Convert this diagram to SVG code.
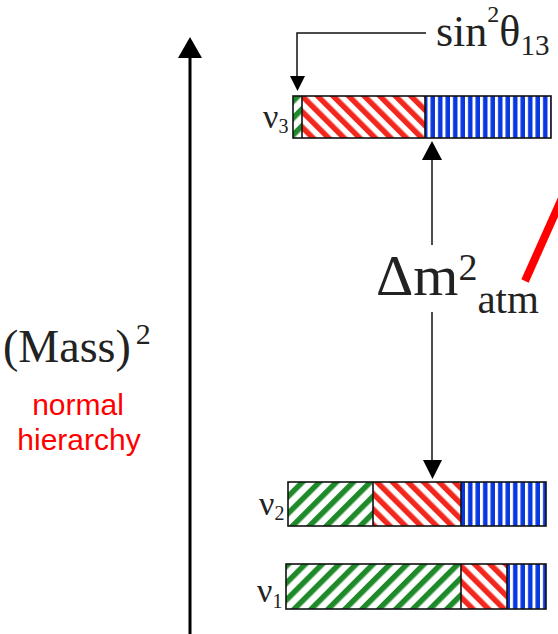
<svg xmlns="http://www.w3.org/2000/svg" width="558" height="634" viewBox="0 0 558 634">
<style>
.serif{font-family:"Liberation Serif","Times New Roman",serif;fill:#222}
.lbl{font-family:"Liberation Sans",Arial,sans-serif;fill:#ff0000;font-size:30px;text-anchor:middle}
.bar{stroke:#111;stroke-width:1.6}
.ln{stroke:#111;stroke-width:1.5;fill:none}
.hd{fill:#000}
</style>
<defs>
<pattern id="pg" width="12" height="12" patternUnits="userSpaceOnUse" patternTransform="rotate(45)">
<rect width="12" height="12" fill="#fff"/><rect width="5.5" height="12" fill="#1f8a2a"/>
</pattern>
<pattern id="pr" width="11" height="11" patternUnits="userSpaceOnUse" patternTransform="rotate(-45)">
<rect width="11" height="11" fill="#fff"/><rect width="5.5" height="11" fill="#f2271e"/>
</pattern>
<pattern id="pb" width="7.5" height="10" patternUnits="userSpaceOnUse">
<rect width="7.5" height="10" fill="#fff"/><rect x="3" width="4.5" height="10" fill="#0a38e0"/>
</pattern>
</defs>
<rect width="558" height="634" fill="#fff"/>

<g id="axis">
<line x1="190" y1="55" x2="190" y2="634" stroke="#000" stroke-width="3"/>
<polygon class="hd" points="178,58 202,58 190,37"/>
<text class="serif" x="3" y="362" font-size="46">(Mass)<tspan font-size="30" dx="5" dy="-18">2</tspan></text>
<text class="lbl" x="78" y="415">normal</text>
<text class="lbl" x="79" y="450">hierarchy</text>
</g>

<g id="nu3">
<rect x="293" y="96" width="9" height="42" fill="url(#pg)"/>
<rect x="302" y="96" width="123" height="42" fill="url(#pr)"/>
<rect x="425" y="96" width="126" height="42" fill="url(#pb)"/>
<rect class="bar" x="293" y="96" width="258" height="42" fill="none"/>
<line class="bar" x1="302" y1="96" x2="302" y2="138"/>
<line class="bar" x1="425" y1="96" x2="425" y2="138"/>
<text class="serif" x="263" y="128" font-size="34">ν<tspan font-size="20" dy="5">3</tspan></text>
</g>

<g id="nu2">
<rect x="288" y="482" width="85" height="44" fill="url(#pg)"/>
<rect x="373" y="482" width="88" height="44" fill="url(#pr)"/>
<rect x="461" y="482" width="85" height="44" fill="url(#pb)"/>
<rect class="bar" x="288" y="482" width="258" height="44" fill="none"/>
<line class="bar" x1="373" y1="482" x2="373" y2="526"/>
<line class="bar" x1="461" y1="482" x2="461" y2="526"/>
<text class="serif" x="259" y="515" font-size="34">ν<tspan font-size="20" dy="5">2</tspan></text>
</g>

<g id="nu1">
<rect x="286" y="564" width="175" height="45" fill="url(#pg)"/>
<rect x="461" y="564" width="46" height="45" fill="url(#pr)"/>
<rect x="507" y="564" width="39" height="45" fill="url(#pb)"/>
<rect class="bar" x="286" y="564" width="260" height="45" fill="none"/>
<line class="bar" x1="461" y1="564" x2="461" y2="609"/>
<line class="bar" x1="507" y1="564" x2="507" y2="609"/>
<text class="serif" x="257" y="602" font-size="34">ν<tspan font-size="20" dy="6">1</tspan></text>
</g>

<g id="sin-label">
<text class="serif" x="436" y="46" font-size="44">sin<tspan font-size="24" dy="-24">2</tspan><tspan dy="24">θ</tspan><tspan font-size="29" dy="9">13</tspan></text>
</g>

<g id="dm-label">
<text class="serif" x="376" y="295" font-size="58">Δm<tspan font-size="38" dy="-15">2</tspan><tspan font-size="41" dy="33">atm</tspan></text>
</g>

<g id="connectors">
<polyline class="ln" points="426,33 297,33 297,77"/>
<polygon class="hd" points="290,76 305,76 297.5,91"/>
<line class="ln" x1="432" y1="158" x2="432" y2="245"/>
<polygon class="hd" points="422,160 442,160 432,141"/>
<line class="ln" x1="432" y1="312" x2="432" y2="462"/>
<polygon class="hd" points="423,460 442,460 432.5,479"/>
<line x1="525" y1="281" x2="562" y2="198" stroke="#ff0000" stroke-width="8"/>
</g>
</svg>
